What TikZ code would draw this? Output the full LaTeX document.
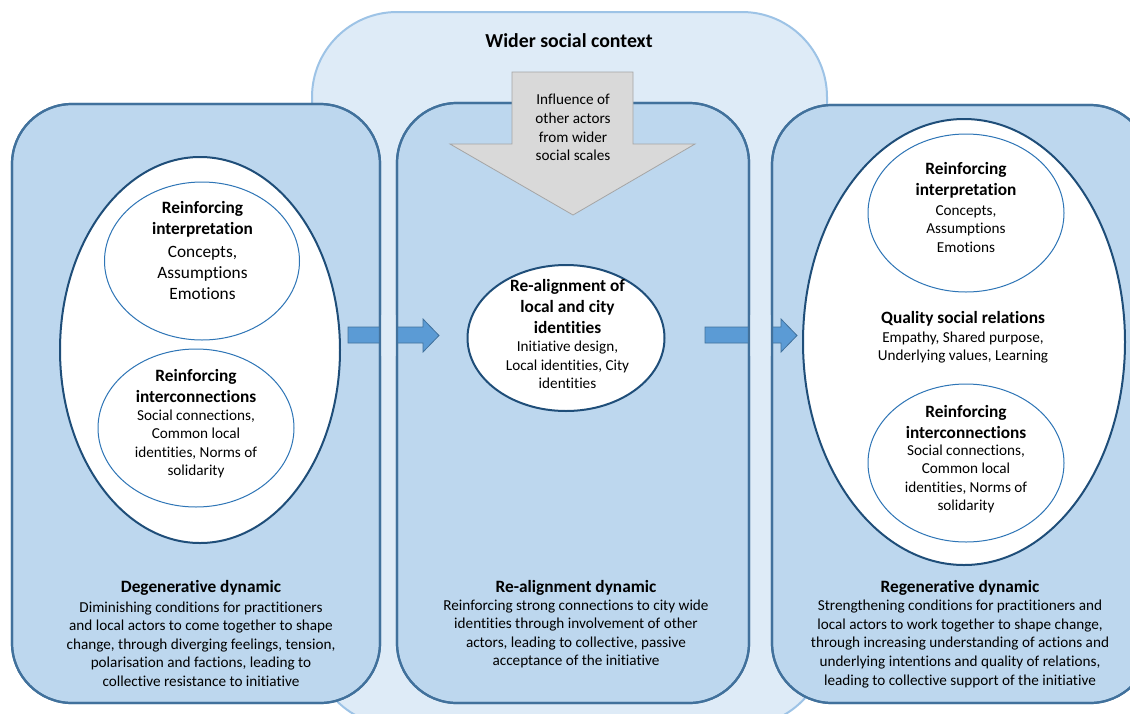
\documentclass[tikz,border=0pt]{standalone}
\usepackage{fontspec}
\setmainfont{Carlito}[RawFeature={-liga}]
\usetikzlibrary{shapes.geometric}

\definecolor{ctxfill}{HTML}{DEEBF7}
\definecolor{ctxline}{HTML}{9DC3E6}
\definecolor{boxfill}{HTML}{BDD7EE}
\definecolor{boxline}{HTML}{41719C}
\definecolor{ovalline}{HTML}{1F4E79}
\definecolor{innerline}{HTML}{2E75B6}
\definecolor{flowfill}{HTML}{5B9BD5}
\definecolor{greyfill}{HTML}{D9D9D9}
\definecolor{greyline}{HTML}{A5A5A5}

\tikzset{
  ctx/.style={rectangle, fill=ctxfill, draw=ctxline, line width=2pt, rounded corners=85pt, inner sep=0, outer sep=0},
  panel/.style={rectangle, fill=boxfill, draw=boxline, line width=2.2pt, rounded corners=60pt, inner sep=0, outer sep=0},
  panelrim/.style={draw=boxline, line width=2.2pt, rounded corners=60pt},
  bigoval/.style={ellipse, fill=white, draw=ovalline, line width=2pt, inner sep=0, outer sep=0},
  smalloval/.style={ellipse, draw=innerline, line width=1pt, inner sep=0, outer sep=0},
  ttl/.style={font=\bfseries\fontsize{17.3}{21}\selectfont, align=center, inner sep=0},
  bigttl/.style={font=\bfseries\fontsize{19.8}{24}\selectfont, align=center, inner sep=0},
  txt/.style={font=\fontsize{15.2}{18.6}\selectfont, align=center, inner sep=0},
  txtlarge/.style={font=\fontsize{17.3}{21}\selectfont, align=center, inner sep=0},
  flow/.style={fill=flowfill, draw=boxline, line width=0.8pt},
  influence/.style={fill=greyfill, draw=greyline, line width=0.8pt},
}

\begin{document}
\begin{tikzpicture}[x=1pt,y=-1pt]
\useasboundingbox (0,0) rectangle (1130,713);
\clip (0,0) rectangle (1130,713);

% wider social context background
\node[ctx, minimum width=515, minimum height=714] (ctx) at (569.5,369) {};

% the three dynamics panels
\node[panel, minimum width=368, minimum height=599] (left) at (196,403.5) {};
\node[panel, minimum width=352, minimum height=600] (mid) at (573,403) {};
\node[panel, minimum width=378, minimum height=598] (right) at (961,404) {};

% ovals
\node[bigoval, minimum width=280, minimum height=386] (lov) at (200,350) {};
\node[smalloval, minimum width=195, minimum height=158] (linterp) at (202,261) {};
\node[smalloval, minimum width=196, minimum height=158] (linter) at (196,428) {};

\node[bigoval, minimum width=197, minimum height=146] (mov) at (566,338) {};

\node[bigoval, minimum width=322, minimum height=446] (rov) at (964,342) {};
\node[smalloval, minimum width=196, minimum height=158] (rinterp) at (966,213) {};
\node[smalloval, minimum width=196, minimum height=158] (rinter) at (966,463) {};

% block arrows between panels
\draw[flow] (348,327) -- (423,327) -- (423,319) -- (439,335.5) -- (423,352) -- (423,343) -- (348,343) -- cycle;
\draw[flow] (705,327) -- (781,327) -- (781,319) -- (797,335.5) -- (781,352) -- (781,343) -- (705,343) -- cycle;

% gaps between panels stay in front of the arrows
\fill[ctxfill] (381.2,315) rectangle (395.8,356);
\fill[ctxfill] (750.2,315) rectangle (770.8,356);
\draw[panelrim] (left.north west) rectangle (left.south east);
\draw[panelrim] (mid.north west) rectangle (mid.south east);
\draw[panelrim] (right.north west) rectangle (right.south east);

% influence from wider social scales
\draw[influence] (512,72) -- (633,72) -- (633,144) -- (695,144) -- (573,215) -- (450,144) -- (512,144) -- cycle;

% texts
\node[bigttl] (ctxt) at (569,41) {Wider social context};
\node[txt] (inft) at (573,127.5) {Influence of\\other actors\\from wider\\social scales};

\node[ttl] (lit) at (202.5,219) {Reinforcing\\interpretation};
\node[txtlarge] (lib) at (202.5,273) {Concepts,\\Assumptions\\Emotions};
\node[ttl] (lct) at (196,386) {Reinforcing\\interconnections};
\node[txt] (lcb) at (196,444) {Social connections,\\Common local\\identities, Norms of\\solidarity};

\node[ttl] (mt) at (567.5,306) {Re-alignment of\\local and city\\identities};
\node[txt] (mb) at (567.5,365) {Initiative design,\\Local identities, City\\identities};

\node[ttl] (rit) at (966,180) {Reinforcing\\interpretation};
\node[txt] (rib) at (966,229) {Concepts,\\Assumptions\\Emotions};
\node[ttl] (rqt) at (963,319) {Quality social relations};
\node[txt] (rqb) at (963,347.5) {Empathy, Shared purpose,\\Underlying values, Learning};
\node[ttl] (rct) at (966,421.5) {Reinforcing\\interconnections};
\node[txt] (rcb) at (966,479) {Social connections,\\Common local\\identities, Norms of\\solidarity};

\node[ttl] (ldt) at (201,588) {Degenerative dynamic};
\node[txt] (ldb) at (201,644) {Diminishing conditions for practitioners\\and local actors to come together to shape\\change, through diverging feelings, tension,\\polarisation and factions, leading to\\collective resistance to initiative};
\node[ttl] (mdt) at (576,588) {Re-alignment dynamic};
\node[txt] (mdb) at (576,634) {Reinforcing strong connections to city wide\\identities through involvement of other\\actors, leading to collective, passive\\acceptance of the initiative};
\node[ttl] (rdt) at (960,588) {Regenerative dynamic};
\node[txt] (rdb) at (960,644) {Strengthening conditions for practitioners and\\local actors to work together to shape change,\\through increasing understanding of actions and\\underlying intentions and quality of relations,\\leading to collective support of the initiative};
\end{tikzpicture}
\end{document}
